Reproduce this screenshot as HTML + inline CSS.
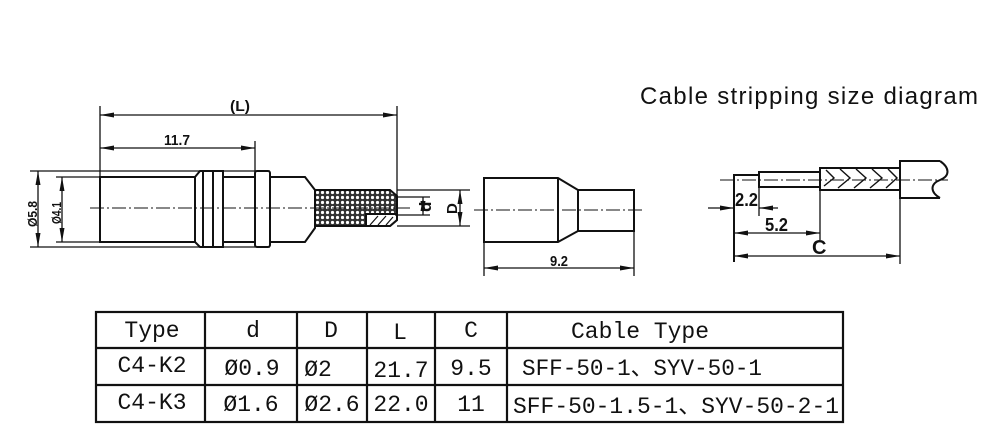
<!DOCTYPE html>
<html><head><meta charset="utf-8"><style>
html,body{margin:0;padding:0;background:#fff;}
svg{display:block;}
.t{font-family:"Liberation Mono","Noto Sans CJK SC",monospace;fill:#111;}
.c{font-family:"Liberation Sans Narrow","Liberation Sans","Noto Sans CJK SC",sans-serif;font-weight:bold;fill:#111;}
</style></head><body>
<svg width="1000" height="436" viewBox="0 0 1000 436" xmlns="http://www.w3.org/2000/svg">
<defs>
<pattern id="knurl" width="5" height="5" patternUnits="userSpaceOnUse">
<rect width="5" height="5" fill="#333"/><circle cx="2.5" cy="2.5" r="1.6" fill="#fff"/>
</pattern>
<marker id="ar" markerWidth="14" markerHeight="5" refX="14" refY="2.5" orient="auto-start-reverse" markerUnits="userSpaceOnUse">
<path d="M0,0 L14,2.5 L0,5 z" fill="#111"/></marker>
</defs>
<text x="640" y="104" font-family="Liberation Sans,sans-serif" font-size="24" textLength="338" fill="#111">Cable stripping size diagram</text>

<g stroke="#111" fill="none" stroke-width="1.3">
<!-- left connector -->
<line x1="100" y1="106" x2="100" y2="178"/>
<line x1="397" y1="106" x2="397" y2="196"/>
<line x1="100" y1="115" x2="397" y2="115" marker-start="url(#ar)" marker-end="url(#ar)"/>
<line x1="255" y1="141" x2="255" y2="172"/>
<line x1="100" y1="148" x2="255" y2="148" marker-start="url(#ar)" marker-end="url(#ar)"/>
<line x1="30" y1="171" x2="270" y2="171"/>
<line x1="30" y1="247" x2="270" y2="247"/>
<line x1="56" y1="177" x2="100" y2="177"/>
<line x1="56" y1="242" x2="100" y2="242"/>
<line x1="38" y1="171" x2="38" y2="247" marker-start="url(#ar)" marker-end="url(#ar)"/>
<line x1="62" y1="177" x2="62" y2="242" marker-start="url(#ar)" marker-end="url(#ar)"/>
<g stroke-width="2">
<rect x="100" y="177" width="95" height="65"/>
<path d="M195,177 L200,171 L213,171 L213,247 L200,247 L195,242 Z"/>
<line x1="203" y1="172" x2="203" y2="246"/>
<rect x="213" y="171" width="10" height="76"/>
<rect x="223" y="177" width="32" height="65"/>
<rect x="255" y="171" width="15" height="76" rx="2"/>
<path d="M270,177 L305,177 L315,190 L315,228 L305,242 L270,242 Z"/>
<path d="M315,190 L390,190 L397,196 L397,220 L390,226 L315,226 Z" fill="url(#knurl)"/>
<path d="M366,214 L397,214 L397,220 L390,226 L366,226 Z" fill="#fff"/>
</g>
<path d="M370,225 L378,216 M378,225 L386,216 M386,225 L393,217" stroke-width="1.2"/>
<line x1="90" y1="208" x2="410" y2="208" stroke-dasharray="14,3,2,3" stroke-width="1"/>
<line x1="397" y1="190" x2="470" y2="190"/>
<line x1="397" y1="226" x2="470" y2="226"/>
<line x1="395" y1="215" x2="430" y2="215"/>
<line x1="395" y1="197" x2="430" y2="197"/>
<line x1="423" y1="197" x2="423" y2="215" marker-start="url(#ar)" marker-end="url(#ar)"/>
<line x1="460" y1="190" x2="460" y2="226" marker-start="url(#ar)" marker-end="url(#ar)"/>

<!-- ferrule -->
<g stroke-width="2">
<path d="M484,178 L558,178 L578,190 L634,190 L634,231 L578,231 L558,242 L484,242 Z"/>
<line x1="558" y1="178" x2="558" y2="242"/>
<line x1="578" y1="190" x2="578" y2="231"/>
</g>
<line x1="474" y1="210" x2="645" y2="210" stroke-dasharray="14,3,2,3" stroke-width="1"/>
<line x1="484" y1="242" x2="484" y2="276"/>
<line x1="634" y1="231" x2="634" y2="276"/>
<line x1="484" y1="268" x2="634" y2="268" marker-start="url(#ar)" marker-end="url(#ar)"/>

<!-- cable -->
<g stroke-width="2">
<path d="M734,262 L734,175 L759,175 L759,188"/>
<rect x="759" y="172" width="61" height="15"/>
<rect x="820" y="168" width="80" height="22"/>
<path d="M940,161 L900,161 L900,198 L940,198"/>
<path d="M940,161 C950,168 950,176 940,180 C930,184 930,192 940,198"/>
</g>
<path d="M824,186 L834,178 L826,170 M838,188 L850,178 L840,169 M854,188 L866,178 L856,169 M870,188 L882,178 L872,169 M886,188 L897,178 L888,169" stroke-width="1.4"/>
<line x1="720" y1="180" x2="948" y2="180" stroke-dasharray="14,3,2,3" stroke-width="1"/>
<line x1="759" y1="188" x2="759" y2="216"/>
<line x1="820" y1="190" x2="820" y2="240"/>
<line x1="900" y1="198" x2="900" y2="264"/>
<line x1="708" y1="208" x2="734" y2="208" marker-end="url(#ar)"/>
<line x1="778" y1="208" x2="759" y2="208" marker-end="url(#ar)"/>
<line x1="734" y1="233" x2="820" y2="233" marker-start="url(#ar)" marker-end="url(#ar)"/>
<line x1="734" y1="256" x2="900" y2="256" marker-start="url(#ar)" marker-end="url(#ar)"/>
</g>

<g class="c" font-size="15">
<text x="230" y="111" textLength="20" lengthAdjust="spacingAndGlyphs">(L)</text>
<text x="164" y="145" textLength="26" lengthAdjust="spacingAndGlyphs">11.7</text>
<text x="550" y="266" textLength="18" lengthAdjust="spacingAndGlyphs">9.2</text>
<text x="765" y="231" font-size="18" textLength="23" lengthAdjust="spacingAndGlyphs">5.2</text>
<text x="812" y="254" font-size="20">C</text>
<text x="735" y="206" font-size="18" textLength="23" lengthAdjust="spacingAndGlyphs">2.2</text>
<text transform="translate(37,227) rotate(-90)" font-size="13" textLength="26" lengthAdjust="spacingAndGlyphs">Ø5.8</text>
<text transform="translate(61,224) rotate(-90)" font-size="13" textLength="22" lengthAdjust="spacingAndGlyphs">Ø4.1</text>
<text transform="translate(431,212) rotate(-90)" font-size="17">d</text>
<text transform="translate(457,214) rotate(-90)" font-size="15">D</text>
</g>

<!-- table -->
<g stroke="#111" stroke-width="2.2" fill="none">
<rect x="96" y="312" width="747" height="110"/>
<line x1="96" y1="348" x2="843" y2="348"/>
<line x1="96" y1="385" x2="843" y2="385"/>
<line x1="205" y1="312" x2="205" y2="422"/>
<line x1="297" y1="312" x2="297" y2="422"/>
<line x1="367" y1="312" x2="367" y2="422"/>
<line x1="435" y1="312" x2="435" y2="422"/>
<line x1="507" y1="312" x2="507" y2="422"/>
</g>
<g class="t" font-size="23" text-anchor="middle">
<text x="152" y="337">Type</text>
<text x="253" y="337">d</text>
<text x="331" y="337">D</text>
<text x="400" y="339">L</text>
<text x="471" y="337">C</text>
<text x="640" y="338">Cable Type</text>
<text x="152" y="372">C4-K2</text>
<text x="252" y="375">Ø0.9</text>
<text x="318" y="376">Ø2</text>
<text x="401" y="377">21.7</text>
<text x="471" y="375">9.5</text>
<text x="152" y="409">C4-K3</text>
<text x="251" y="411">Ø1.6</text>
<text x="332" y="411">Ø2.6</text>
<text x="401" y="411">22.0</text>
<text x="471" y="411">11</text>
</g>
<g class="t" font-size="23">
<text x="522" y="375" textLength="240" lengthAdjust="spacingAndGlyphs">SFF-50-1、SYV-50-1</text>
<text x="513" y="413" textLength="326" lengthAdjust="spacingAndGlyphs">SFF-50-1.5-1、SYV-50-2-1</text>
</g>
</svg>
</body></html>
